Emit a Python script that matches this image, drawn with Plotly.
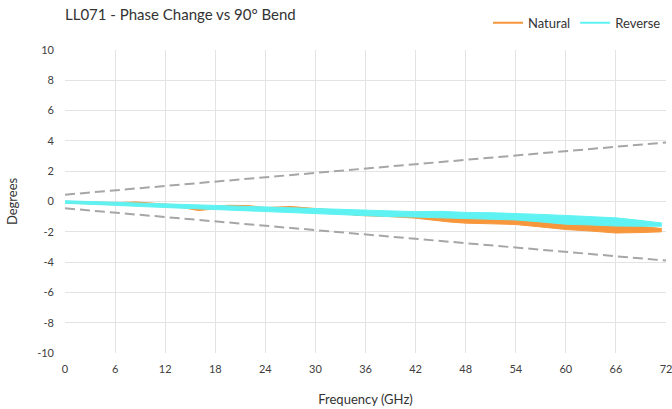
import plotly.graph_objects as go

# Frequency (GHz) and phase-change envelopes (degrees) for each bend direction
nat_freq = [0, 3, 6, 8.5, 11, 14, 16, 19.5, 22, 24, 27, 29, 32, 35, 39, 42, 46, 48,
            51, 54, 57, 60, 63, 66, 69, 71.5]
nat_upper = [0.02, -0.03, -0.08, -0.03, -0.15, -0.25, -0.40, -0.25, -0.27, -0.40, -0.33,
             -0.40, -0.55, -0.70, -0.78, -0.85, -0.95, -1.00, -1.05, -1.10, -1.25, -1.40,
             -1.50, -1.60, -1.65, -1.78]
nat_lower = [-0.10, -0.15, -0.22, -0.20, -0.30, -0.40, -0.60, -0.40, -0.45, -0.60, -0.50,
             -0.60, -0.70, -0.92, -1.00, -1.10, -1.35, -1.43, -1.47, -1.52, -1.68, -1.85,
             -1.95, -2.08, -2.05, -2.00]

rev_freq = [0, 3, 6, 9, 12, 15, 18, 21, 24, 27, 30, 33, 36, 39, 42, 45, 48, 51, 54,
            57, 60, 63, 66, 69, 71.5]
rev_upper = [0.05, 0.00, -0.05, -0.10, -0.15, -0.20, -0.25, -0.30, -0.37, -0.42, -0.50,
             -0.55, -0.60, -0.63, -0.67, -0.65, -0.72, -0.74, -0.77, -0.85, -0.92, -1.00,
             -1.08, -1.25, -1.42]
rev_lower = [-0.12, -0.17, -0.25, -0.33, -0.40, -0.48, -0.55, -0.62, -0.70, -0.75, -0.82,
             -0.88, -0.95, -1.00, -1.03, -1.08, -1.13, -1.17, -1.22, -1.35, -1.50, -1.55,
             -1.62, -1.63, -1.63]

# Tolerance limits
limit_freq = [0, 72]
limit_upper = [0.45, 3.9]
limit_lower = [-0.45, -3.9]

x_ticks = list(range(0, 73, 6))
y_ticks = list(range(-10, 11, 2))
y_tick_text = [str(v) for v in y_ticks]

ORANGE = "#F7963B"
CYAN = "#5FF2F2"
DASH = "#A6A6A6"
GRID = "#E3E3E3"
TEXT = "#404040"

fig = go.Figure()

# Limit lines
for ys in (limit_upper, limit_lower):
    fig.add_trace(go.Scatter(x=limit_freq, y=ys, mode="lines", showlegend=False,
                             hoverinfo="skip",
                             line=dict(color=DASH, width=2, dash="10px,5px")))

# Measured bands: upper edge, then lower edge filled back to it
for name, fx, up, lo, col in (("Natural", nat_freq, nat_upper, nat_lower, ORANGE),
                              ("Reverse", rev_freq, rev_upper, rev_lower, CYAN)):
    fig.add_trace(go.Scatter(x=fx, y=up, mode="lines", showlegend=False,
                             line=dict(color=col, width=1), hoverinfo="skip"))
    fig.add_trace(go.Scatter(x=fx, y=lo, mode="lines", showlegend=False,
                             line=dict(color=col, width=1), fill="tonexty",
                             fillcolor=col, hoverinfo="skip"))

# Legend entries
for name, col in (("Natural", ORANGE), ("Reverse", CYAN)):
    fig.add_trace(go.Scatter(x=[None], y=[None], mode="lines", name=name,
                             line=dict(color=col, width=2)))

fig.update_layout(
    width=672, height=409,
    margin=dict(l=65, r=6, t=50, b=56),
    paper_bgcolor="white", plot_bgcolor="white",
    font=dict(family="Lato, Open Sans, sans-serif", color=TEXT, size=11),
    title=dict(text="LL071 - Phase Change vs 90° Bend", x=0, xref="paper",
               xanchor="left", y=0.965, yanchor="middle",
               font=dict(size=15, color="#333333")),
    legend=dict(orientation="h", x=1.0, xanchor="right", y=1.09, yanchor="middle",
                traceorder="normal", font=dict(size=13, color="#333333"),
                itemwidth=30, bgcolor="rgba(0,0,0,0)"),
    xaxis=dict(range=[0, 72], tickvals=x_ticks, showgrid=True, gridcolor=GRID,
               gridwidth=1, zeroline=False, showline=False, ticks="",
               ticklabelstandoff=8, ticklabeloverflow="allow", automargin="bottom",
               title=dict(text="Frequency (GHz)", font=dict(size=13, color="#333333"),
                          standoff=20)),
    yaxis=dict(range=[-10, 10], tickvals=y_ticks, ticktext=y_tick_text, showgrid=True,
               gridcolor=GRID, gridwidth=1, zeroline=False, showline=False, ticks="",
               ticklabelstandoff=10,
               title=dict(text="Degrees", font=dict(size=13, color="#333333"),
                          standoff=16)),
)

fig.write_html("out.html")
